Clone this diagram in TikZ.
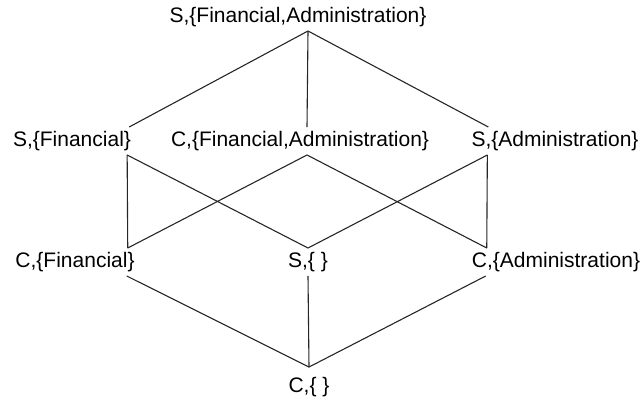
\documentclass[tikz,border=0pt]{standalone}
\usepackage{fontspec}
\setmainfont{Liberation Sans}
\usetikzlibrary{positioning}

\begin{document}
\begin{tikzpicture}[
    x=1pt, y=-1pt,
    lat/.style={inner xsep=0pt, inner ysep=4pt, font=\fontsize{21}{25}\selectfont},
    ln/.style={line width=1.1pt, black!85}
]
\useasboundingbox (0,0) rectangle (642,401);

% ---- top element ----
\node[lat] (sfa) at (298,17) {S,\{Financial,Administration\}};

% ---- middle row ----
\node[lat] (sf)  at (72,141)  {S,\{Financial\}};
\node[lat] (cfa) at (300,141) {C,\{Financial,Administration\}};
\node[lat] (sa)  at (555,141) {S,\{Administration\}};

% ---- lower row ----
\node[lat] (cf) at (75,262)  {C,\{Financial\}};
\node[lat] (se) at (308,262) {S,\{ \}};
\node[lat] (ca) at (556,262) {C,\{Administration\}};

% ---- bottom element ----
\node[lat] (ce) at (309,387) {C,\{ \}};

% ---- top -> middle row ----
\draw[ln] ([xshift=10pt]sfa.south) -- ([xshift=-2pt]sf.north east);
\draw[ln] ([xshift=10pt]sfa.south) -- ([xshift=7pt]cfa.north);
\draw[ln] ([xshift=10pt]sfa.south) -- ([xshift=17pt]sa.north west);

% ---- middle row -> lower row ----
\draw[ln] ([xshift=-4pt]sf.south east) -- ([xshift=-7pt]cf.north east);
\draw[ln] ([xshift=-4pt]sf.south east) -- (se.north);
\draw[ln] ([xshift=7pt]cfa.south) -- ([xshift=-7pt]cf.north east);
\draw[ln] ([xshift=7pt]cfa.south) -- ([xshift=15pt]ca.north west);
\draw[ln] ([xshift=16pt]sa.south west) -- (se.north);
\draw[ln] ([xshift=16pt]sa.south west) -- ([xshift=15pt]ca.north west);

% ---- lower row -> bottom ----
\draw[ln] ([xshift=-8pt]cf.south east) -- ([yshift=6pt]ce.north);
\draw[ln] (se.south) -- ([yshift=6pt]ce.north);
\draw[ln] ([xshift=14pt]ca.south west) -- ([yshift=6pt]ce.north);

\end{tikzpicture}
\end{document}
